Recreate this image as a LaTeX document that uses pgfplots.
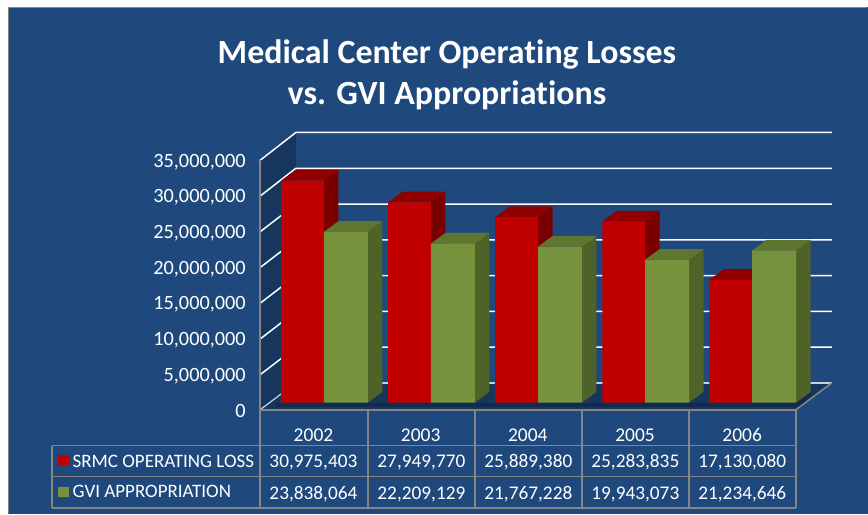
\documentclass[border=0pt]{standalone}
\usepackage{fontspec}
\setmainfont[Ligatures={NoCommon}]{Carlito}
\usepackage{pgfplots}
\pgfplotsset{compat=1.18}
\definecolor{panel}{HTML}{1F497D}
\definecolor{wall}{HTML}{17365D}
\definecolor{floorsh}{HTML}{122B4C}
\definecolor{edge}{HTML}{858585}
\definecolor{redF}{HTML}{C00000}
\definecolor{redT}{HTML}{900000}
\definecolor{redS}{HTML}{7A0000}
\definecolor{grnF}{HTML}{76923C}
\definecolor{grnT}{HTML}{5F7530}
\definecolor{grnS}{HTML}{4F6228}
\newcommand{\gridl}[2]{\draw[white,line width=1.5pt] (260,#1) -- (296,#2) -- (832,#2);}
\newcommand{\tabv}[1]{\draw[edge,line width=1.7pt] (#1,410) -- (#1,446);}
\newcommand{\tabw}[1]{\draw[edge,line width=1.7pt] (#1,446) -- (#1,508.3);}
\newcommand{\cell}[3]{\node[text=white,font=\fontsize{19.3}{19.3}\selectfont,inner sep=0pt] at (#1,#2) {#3};}
\begin{document}
\begin{tikzpicture}[x=1pt,y=1pt]
% ---- pixel-addressed frame: panel, walls, floor, table
\begin{axis}[name=frame, at={(0pt,0pt)}, anchor=south west, scale only axis,
  width=868pt, height=514pt, xmin=0, xmax=868, ymin=0, ymax=514, y dir=reverse,
  axis lines=none, clip=false]
\fill[white] (0,0) rectangle (868,514);
\fill[panel] (8.5,7.5) rectangle (868,514);
\draw[edge,line width=1.5pt] (8.5,513.5) -- (8.5,7.5) -- (867.5,7.5);
% walls & floor
\fill[wall] (260,160.5) -- (296,132.5) -- (296,383) -- (260,410) -- cycle;
\fill[wall] (260,410) -- (296,383) -- (832,383) -- (796,410) -- cycle;
\fill[floorsh] (276,403) -- (796,403) -- (811,392) -- (811,396) -- (800,407) -- (276,407) -- cycle;
% gridlines
\gridl{160.5}{132.5}
\gridl{196.3}{168.3}
\gridl{232}{204.2}
\gridl{267.8}{240}
\gridl{303.5}{275.8}
\gridl{339.3}{311.5}
\gridl{375}{347.3}
\draw[white!75!panel,line width=1.3pt] (296,383) -- (832,383);
\draw[white!75!panel,line width=1.2pt] (260,410) -- (296,383);
\draw[edge,line width=1.5pt] (796,410) -- (832,383);
% table rules
\draw[edge,line width=1.7pt] (52,445.7) -- (796,445.7);
\draw[edge,line width=1.7pt] (52,476.7) -- (796,476.7);
\draw[edge,line width=1.7pt] (52,508.3) -- (796,508.3);
\draw[edge,line width=1.7pt] (52,445.7) -- (52,508.3);
\tabv{260}\tabv{368}\tabv{475}\tabv{582}\tabv{689}\tabv{796}
\tabw{260}\tabw{368}\tabw{475}\tabw{582}\tabw{689}\tabw{796}
% legend keys and row names
\fill[redF] (58,455) rectangle (68.7,465);
\fill[grnF] (58,486.7) rectangle (68.7,497);
\node[anchor=west,text=white,font=\fontsize{19}{19}\selectfont,inner sep=0pt] at (72.5,461.5) {SRMC OPERATING LOSS};
\node[anchor=west,text=white,font=\fontsize{19}{19}\selectfont,inner sep=0pt] at (72.5,492) {GVI APPROPRIATION};
% table values
\cell{313.5}{462.5}{30,975,403}\cell{313.5}{494.5}{23,838,064}
\cell{421.5}{462.5}{27,949,770}\cell{421.5}{494.5}{22,209,129}
\cell{528.5}{462.5}{25,889,380}\cell{528.5}{494.5}{21,767,228}
\cell{635.5}{462.5}{25,283,835}\cell{635.5}{494.5}{19,943,073}
\cell{742.5}{462.5}{17,130,080}\cell{742.5}{494.5}{21,234,646}
% title
\node[text=white,font=\fontsize{33.9}{41}\selectfont\bfseries,align=center,inner sep=0pt] at (447,74.5) {Medical Center Operating Losses\\vs. GVI Appropriations};
\end{axis}
% ---- value axis on the front wall, with its tick labels
\begin{axis}[at={(260pt,104pt)}, anchor=south west, scale only axis,
  width=536pt, height=249.5pt, xmin=2001.5, xmax=2006.5, ymin=0, ymax=35000000,
  axis x line=bottom, axis y line=left,
  axis line style={-,color=edge,line width=1.5pt},
  major tick length=0pt, scaled y ticks=false,
  ytick={0,5000000,10000000,15000000,20000000,25000000,30000000,35000000},
  xtick={2002,2003,2004,2005,2006},
  xticklabels={2002,2003,2004,2005,2006},
  /pgf/number format/.cd, fixed, 1000 sep={,}, assume math mode=true, /tikz/.cd,
  yticklabel style={text=white,font=\fontsize{20.3}{20.3}\selectfont,xshift=-14pt,yshift=-1.5pt,inner sep=0pt},
  xticklabel style={text=white,font=\fontsize{19.5}{19.5}\selectfont,yshift=-18pt,inner sep=0pt,text height=13pt,text depth=0pt}]
\end{axis}
% ---- the bars
\begin{axis}[at={(0pt,0pt)}, anchor=south west, scale only axis,
  width=868pt, height=514pt, xmin=1998.9748, xmax=2007.0794,
  ymin=-15531000, ymax=56196000, axis lines=none, clip=false, no markers]
% red sides
\addplot[fill=redS,draw=none] coordinates {(2002,0)(2002,30975403)(2002.1354,32468403)(2002.1354,1493000)};
\addplot[fill=redS,draw=none] coordinates {(2003,0)(2003,27949770)(2003.1354,29442770)(2003.1354,1493000)};
\addplot[fill=redS,draw=none] coordinates {(2004,0)(2004,25889380)(2004.1354,27382380)(2004.1354,1493000)};
\addplot[fill=redS,draw=none] coordinates {(2005,0)(2005,25283835)(2005.1354,26776835)(2005.1354,1493000)};
\addplot[fill=redS,draw=none] coordinates {(2006,0)(2006,17130080)(2006.1354,18623080)(2006.1354,1493000)};
% red tops
\addplot[fill=redT,draw=none] coordinates {(2001.6,30975403)(2002,30975403)(2002.1354,32468403)(2001.7354,32468403)};
\addplot[fill=redT,draw=none] coordinates {(2002.6,27949770)(2003,27949770)(2003.1354,29442770)(2002.7354,29442770)};
\addplot[fill=redT,draw=none] coordinates {(2003.6,25889380)(2004,25889380)(2004.1354,27382380)(2003.7354,27382380)};
\addplot[fill=redT,draw=none] coordinates {(2004.6,25283835)(2005,25283835)(2005.1354,26776835)(2004.7354,26776835)};
\addplot[fill=redT,draw=none] coordinates {(2005.6,17130080)(2006,17130080)(2006.1354,18623080)(2005.7354,18623080)};
% red fronts
\addplot[ybar,bar width=0.4,bar shift=-0.2,fill=redF,draw=none] coordinates {(2002,30975403)(2003,27949770)(2004,25889380)(2005,25283835)(2006,17130080)};
% green sides
\addplot[fill=grnS,draw=none] coordinates {(2002.41,0)(2002.41,23838064)(2002.5454,25331064)(2002.5454,1493000)};
\addplot[fill=grnS,draw=none] coordinates {(2003.41,0)(2003.41,22209129)(2003.5454,23702129)(2003.5454,1493000)};
\addplot[fill=grnS,draw=none] coordinates {(2004.41,0)(2004.41,21767228)(2004.5454,23260228)(2004.5454,1493000)};
\addplot[fill=grnS,draw=none] coordinates {(2005.41,0)(2005.41,19943073)(2005.5454,21436073)(2005.5454,1493000)};
\addplot[fill=grnS,draw=none] coordinates {(2006.41,0)(2006.41,21234646)(2006.5454,22727646)(2006.5454,1493000)};
% green tops
\addplot[fill=grnT,draw=none] coordinates {(2002,23838064)(2002.41,23838064)(2002.5454,25331064)(2002.1354,25331064)};
\addplot[fill=grnT,draw=none] coordinates {(2003,22209129)(2003.41,22209129)(2003.5454,23702129)(2003.1354,23702129)};
\addplot[fill=grnT,draw=none] coordinates {(2004,21767228)(2004.41,21767228)(2004.5454,23260228)(2004.1354,23260228)};
\addplot[fill=grnT,draw=none] coordinates {(2005,19943073)(2005.41,19943073)(2005.5454,21436073)(2005.1354,21436073)};
\addplot[fill=grnT,draw=none] coordinates {(2006,21234646)(2006.41,21234646)(2006.5454,22727646)(2006.1354,22727646)};
% green fronts
\addplot[ybar,bar width=0.41,bar shift=0.205,fill=grnF,draw=none] coordinates {(2002,23838064)(2003,22209129)(2004,21767228)(2005,19943073)(2006,21234646)};
\end{axis}
\end{tikzpicture}
\end{document}
